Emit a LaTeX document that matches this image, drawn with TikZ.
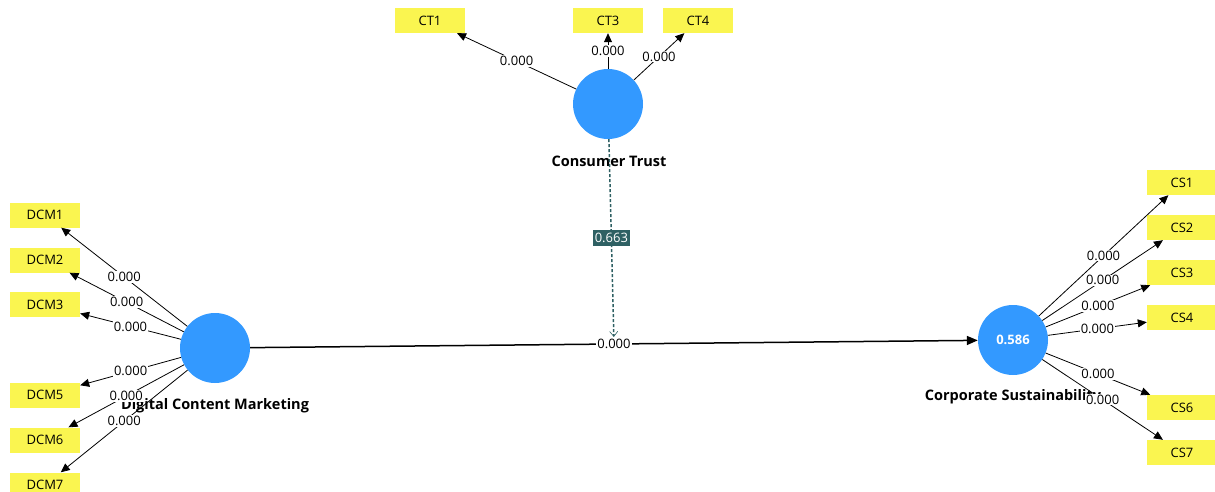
\documentclass[tikz,border=0pt]{standalone}
\usepackage{fontspec}
\setmainfont{Open Sans}
\usetikzlibrary{arrows.meta}
\definecolor{latent}{RGB}{51,153,255}
\definecolor{indic}{RGB}{250,245,80}
\definecolor{modcol}{RGB}{46,96,99}
\tikzset{
  lv/.style={circle, fill=latent, minimum size=70pt, inner sep=0pt, text=white, font=\fontsize{13}{15}\selectfont\bfseries},
  mv/.style={rectangle, fill=indic, minimum width=70pt, minimum height=25pt, inner sep=0pt, font=\fontsize{13}{15}\selectfont},
  lvname/.style={font=\fontsize{14.5}{17}\selectfont\bfseries, inner sep=0pt},
  load/.style={-{Triangle[length=9pt,width=8pt]}, line width=0.8pt},
  wt/.style={fill=white, inner sep=1pt, font=\fontsize{13}{15}\selectfont},
  path/.style={-{Triangle[length=11pt,width=9pt]}, line width=1.5pt},
  modpath/.style={modcol, line width=1.5pt, dash pattern=on 3pt off 2pt, -{Straight Barb[length=5pt,width=8pt,line width=0.6pt]}},
  modlbl/.style={fill=modcol, text=white, inner xsep=2pt, inner ysep=3pt, font=\fontsize{13}{15}\selectfont, solid}
}
\begin{document}
\begin{tikzpicture}[x=1pt, y=-1pt]
\useasboundingbox (0,0) rectangle (1215,492);

% latent variables
\node[lv] (CT) at (608,104) {};
\node[lv] (DCM) at (215,348) {};
\node[lv] (CS) at (1013,340) {0.586};

% latent variable names
\node[lvname] at (609,161) {Consumer Trust};
\node[lvname] at (215,406) {Digital Content Marketing};
\node[lvname] at (1013,397) {Corporate Sustainability};

% indicators
\node[mv] (CT1) at (430,20.5) {CT1};
\node[mv] (CT3) at (608,20.5) {CT3};
\node[mv] (CT4) at (698,20.5) {CT4};

\node[mv] (DCM1) at (45,215) {DCM1};
\node[mv] (DCM2) at (45,260) {DCM2};
\node[mv] (DCM3) at (45,304.5) {DCM3};
\node[mv] (DCM5) at (45,395) {DCM5};
\node[mv] (DCM6) at (45,440) {DCM6};
\node[mv] (DCM7) at (45,485) {DCM7};

\node[mv] (CS1) at (1182,182.5) {CS1};
\node[mv] (CS2) at (1182,227.5) {CS2};
\node[mv] (CS3) at (1182,272.5) {CS3};
\node[mv] (CS4) at (1182,317.5) {CS4};
\node[mv] (CS6) at (1182,407.5) {CS6};
\node[mv] (CS7) at (1182,452.5) {CS7};

% outer loadings
\foreach \i in {CT1,CT3,CT4}
  \draw[load] (CT) -- node[wt] {0.000} (\i);
\foreach \i in {DCM1,DCM2,DCM3,DCM5,DCM6,DCM7}
  \draw[load] (DCM) -- node[wt] {0.000} (\i);
\foreach \i in {CS1,CS2,CS3,CS4,CS6,CS7}
  \draw[load] (CS) -- node[wt] {0.000} (\i);

% structural path
\draw[path] (DCM) -- node[wt, inner sep=1.5pt] (pmid) {0.000} (CS);

% moderating effect onto the path
\draw[modpath] (CT) -- node[modlbl] {0.663} (pmid);
\end{tikzpicture}
\end{document}
